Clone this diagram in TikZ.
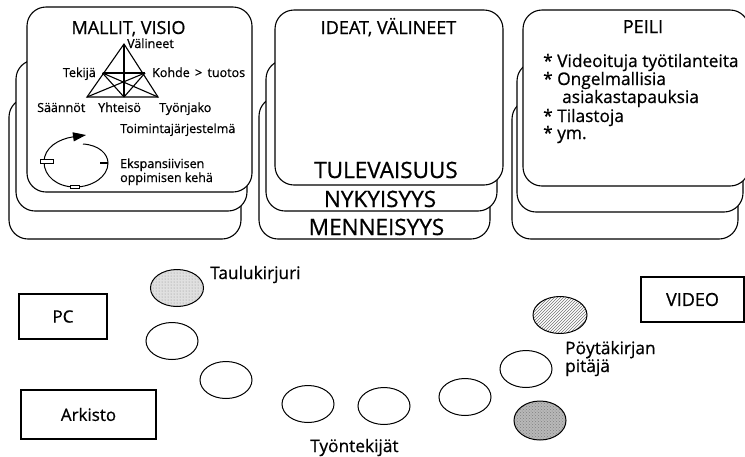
\documentclass[tikz,border=0pt]{standalone}
\usepackage{fontspec}
\setmainfont{Open Sans}[FakeBold=0.7]
\usetikzlibrary{shapes.geometric,arrows.meta,patterns}

\begin{document}
\begin{tikzpicture}[x=1pt,y=-1pt,
  card/.style={draw, line width=1.1pt, fill=white, rounded corners=19pt},
  head/.style={font=\fontsize{18}{20}\selectfont, inner sep=0pt},
  big/.style={font=\fontsize{22.5}{24}\selectfont, inner sep=0pt},
  lab/.style={font=\fontsize{12.5}{14}\selectfont, inner sep=0pt},
  txt/.style={font=\fontsize{17.3}{19}\selectfont, inner sep=0pt},
  tline/.style={line width=1.1pt},
  tagbox/.style={draw, line width=1.1pt, inner sep=0pt, font=\fontsize{17}{19}\selectfont},
  person/.style={draw, line width=1pt, ellipse, inner sep=0pt, minimum width=52pt, minimum height=37pt},
  marker/.style={draw, line width=0.8pt, fill=white, inner sep=0pt}
]
\useasboundingbox (0,0) rectangle (745,456);

% ---- left stack: models and vision
\draw[card] (9,98) rectangle (241,239);
\draw[card] (16,60) rectangle (247,211);
\draw[card] (27,7) rectangle (252,192);
\node[head, anchor=base] (mallit) at (128.5,34) {MALLIT, VISIO};

% activity system triangle
\coordinate (apex) at (124,44);
\coordinate (bl) at (87,97);
\coordinate (br) at (158,97);
\coordinate (ml) at (102.5,73);
\coordinate (mr) at (145,73);
\coordinate (bm) at (124,97);
\draw[tline] (apex) -- (bl) -- (br) -- cycle;
\draw[tline] (ml) -- (mr);
\draw[tline] (apex) -- (bm);
\draw[tline] (ml) -- (br);
\draw[tline] (ml) -- (bm);
\draw[tline] (mr) -- (bl);
\draw[tline] (mr) -- (bm);

\node[lab, anchor=base west] (valineet) at (127,48) {Välineet};
\node[lab, anchor=base east] (tekija) at (96,77) {Tekijä};
\node[lab, anchor=base west] (kohde) at (152,77) {Kohde \,>\, tuotos};
\node[lab, anchor=base west] (saannot) at (37,112) {Säännöt};
\node[lab, anchor=base west] (yhteiso) at (98,112) {Yhteisö};
\node[lab, anchor=base west] (tyonjako) at (159,112) {Työnjako};
\node[lab, anchor=base west] (toiminta) at (120,133) {Toimintajärjestelmä};

% expansive learning cycle
\coordinate (cstart) at (83,144);
\coordinate (cright) at (108,163);
\coordinate (cbottom) at (75,187);
\coordinate (cleft) at (44,162);
\coordinate (ctip) at (86,135);
\draw[line width=1pt, -{Triangle[length=13pt,width=9pt]}]
  (cstart) .. controls (99,145) and (108,154) .. (cright)
  .. controls (108,177) and (92,187) .. (cbottom)
  .. controls (57,187) and (44,176) .. (cleft)
  .. controls (44,148) and (58,139) .. (ctip);
\node[marker, minimum width=13pt, minimum height=4pt] (mleft) at (46.5,161) {};
\node[marker, minimum width=9pt, minimum height=3.5pt] (mbottom) at (74.5,187) {};
\draw[line width=2.4pt] (100,163) -- (cright);
\node[lab, anchor=base west] (eksp) at (120,168) {Ekspansiivisen};
\node[lab, anchor=base west] (oppi) at (120,182) {oppimisen kehä};

% ---- middle stack: ideas and tools over time
\draw[card] (259,97) rectangle (490,239);
\draw[card] (266,60) rectangle (497,211);
\draw[card] (275,10) rectangle (503,185);
\node[head, anchor=base] (ideat) at (388.5,34) {IDEAT, VÄLINEET};
\node[big, anchor=base] (tulev) at (386,178) {TULEVAISUUS};
\node[big, anchor=base] (nyky) at (380,207) {NYKYISYYS};
\node[big, anchor=base] (menn) at (376.5,235) {MENNEISYYS};

% ---- right stack: the mirror
\draw[card] (512,100) rectangle (738,239);
\draw[card] (517,62) rectangle (743,212);
\draw[card] (523,10) rectangle (749,186);
\node[head, anchor=base] (peili) at (643,33) {PEILI};
\node[txt, anchor=base west] (p1) at (543,67) {* Videoituja työtilanteita};
\node[txt, anchor=base west] (p2) at (543,85) {* Ongelmallisia};
\node[txt, anchor=base west] (p3) at (562,103) {asiakastapauksia};
\node[txt, anchor=base west] (p4) at (543,122) {* Tilastoja};
\node[txt, anchor=base west] (p5) at (543,139) {* ym.};

% ---- room layout
\node[tagbox, minimum width=88pt, minimum height=45pt] (pc) at (63,316.5) {PC};
\node[tagbox, minimum width=135pt, minimum height=49pt] (arkisto) at (88.5,414.5) {Arkisto};
\node[tagbox, minimum width=103pt, minimum height=45pt, font=\fontsize{18}{20}\selectfont] (video) at (692.5,299.5) {VIDEO};

\node[person, minimum width=53pt, preaction={fill=black!12}, pattern=dots, pattern color=black!45] (taulu) at (177,288) {};
\node[person] (e2) at (172,341) {};
\node[person] (e3) at (226,380) {};
\node[person] (e4) at (308,404) {};
\node[person] (e5) at (384,406) {};
\node[person] (e6) at (465,397) {};
\node[person] (e7) at (526,369) {};
\node[person, minimum width=54pt, pattern=north east lines, pattern color=black!55] (poyta) at (560,315) {};
\node[person, minimum height=39pt, preaction={fill=black!28}, pattern=crosshatch dots, pattern color=black!50] (dark) at (540,420.5) {};

\node[txt, anchor=base west] (taululab) at (210,279) {Taulukirjuri};
\node[txt, anchor=base west] (tyontek) at (310,452) {Työntekijät};
\node[txt, anchor=base west, align=left, font=\fontsize{17.3}{15}\selectfont] (poytalab) at (565,372) {Pöytäkirjan\\pitäjä};
\end{tikzpicture}
\end{document}
